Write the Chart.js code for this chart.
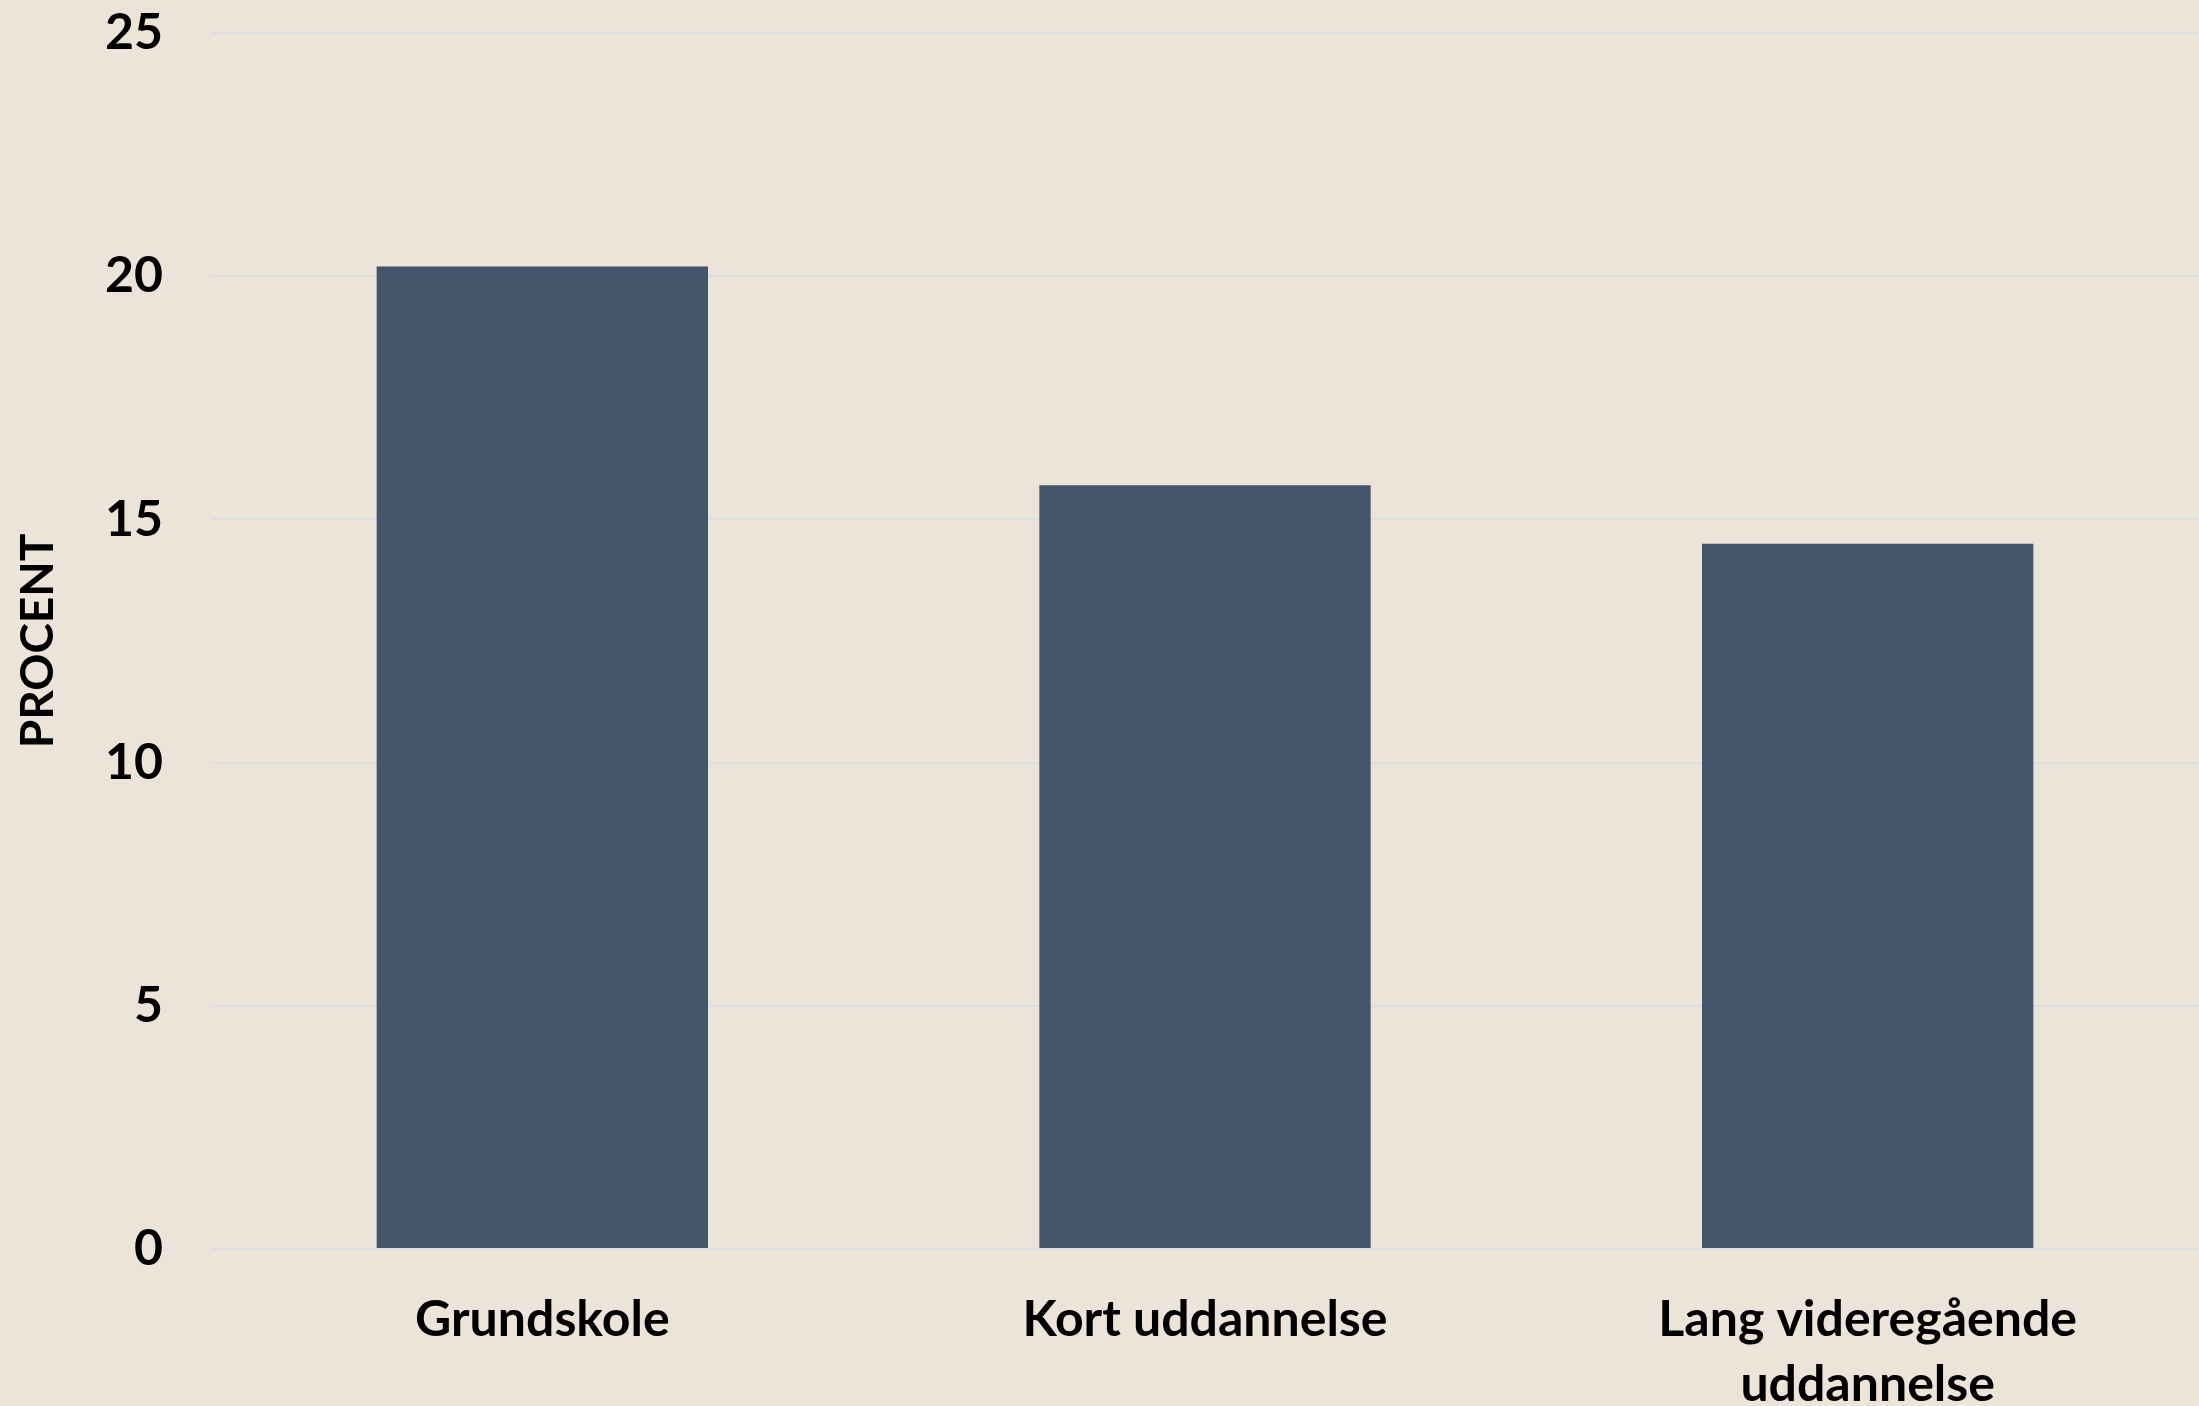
<!DOCTYPE html>
<html>
<head>
<meta charset="utf-8">
<script src="https://cdn.jsdelivr.net/npm/chart.js@4"></script>
<style>
  html, body { margin: 0; padding: 0; background: #ECE4D8; }
  #wrap { width: 2199px; height: 1406px; }
</style>
</head>
<body>
<div id="wrap"><canvas id="chart" width="2199" height="1406"></canvas></div>
<script>
const categories = ['Grundskole', 'Kort uddannelse', ['Lang videregående', 'uddannelse']];
const values = [20.2, 15.7, 14.5];
const yMin = 0;
const yMax = 25;
const yStep = 5;

const labelFont = { family: 'Lato', size: 50, weight: 'bold', lineHeight: 1.3 };

const bg = {
  id: 'bg',
  beforeDraw(chart) {
    const c = chart.ctx;
    c.save();
    c.fillStyle = '#ECE4D8';
    c.fillRect(0, 0, chart.width, chart.height);
    c.restore();
  }
};

const ctx = document.getElementById('chart').getContext('2d');
const chart = new Chart(ctx, {
  type: 'bar',
  data: {
    labels: categories,
    datasets: [{
      label: 'Procent',
      data: values,
      backgroundColor: '#44546A',
      borderWidth: 0,
      categoryPercentage: 1,
      barPercentage: 0.5
    }]
  },
  options: {
    responsive: false,
    devicePixelRatio: 1,
    animation: false,
    layout: { padding: { top: 33, right: 0, bottom: 0, left: 0 } },
    plugins: {
      legend: { display: false },
      tooltip: { enabled: false }
    },
    scales: {
      x: {
        grid: { display: false },
        border: { display: false },
        ticks: {
          color: '#000',
          font: labelFont,
          padding: 30,
          maxRotation: 0,
          autoSkip: false
        },
        afterFit(scale) { scale.height = 157; }
      },
      y: {
        min: yMin,
        max: yMax,
        grid: { color: '#DEDDE2', lineWidth: 2, drawTicks: false },
        border: { display: false },
        ticks: {
          stepSize: yStep,
          color: '#000',
          font: labelFont,
          padding: 48
        },
        title: {
          display: true,
          text: 'PROCENT',
          color: '#000',
          font: { family: 'Lato', size: 46, weight: 'bold', lineHeight: 1.2 },
          padding: { top: 11, bottom: 0 }
        },
        afterFit(scale) {
          scale.width = 211;
          scale.paddingTop = 0;
          scale.paddingBottom = 0;
        }
      }
    }
  },
  plugins: [bg]
});
</script>
</body>
</html>
